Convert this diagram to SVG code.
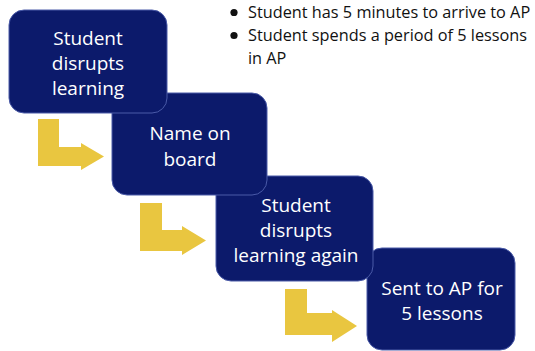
<svg xmlns="http://www.w3.org/2000/svg" width="535" height="351" viewBox="0 0 535 351">
<style>
.box{fill:#0c1a6b;stroke:#4a5aa8;stroke-width:1}
.bt{fill:#ffffff;font-family:"Open Sans","Liberation Sans",sans-serif;font-size:19px;text-anchor:middle}
.arr{fill:#e9c640}
.note{fill:#111111;font-family:"Open Sans","Liberation Sans",sans-serif;font-size:16.3px}
</style>
<rect width="535" height="351" fill="#ffffff"/>
<g id="connectors">
<polygon class="arr" points="38,119 59,119 59,147 81,147 81,143 104,156.5 81,170 81,166 38,166"/>
<polygon class="arr" points="140,203 162,203 162,230 182,230 182,226 206,240.5 182,255 182,251 140,251"/>
<polygon class="arr" points="285,289 307,289 307,313 332,313 332,310 357,326 332,342 332,335 285,335"/>
</g>
<g id="node4">
<rect class="box" x="367" y="248" width="148" height="102" rx="15"/>
<text class="bt" x="442" y="295">Sent to AP for</text>
<text class="bt" x="442" y="320">5 lessons</text>
</g>
<g id="node3">
<rect class="box" x="216" y="176" width="157" height="105" rx="15"/>
<text class="bt" x="296" y="212">Student</text>
<text class="bt" x="296" y="237">disrupts</text>
<text class="bt" x="296" y="262">learning again</text>
</g>
<g id="node2">
<rect class="box" x="112" y="93" width="155" height="102" rx="15"/>
<text class="bt" x="190" y="140">Name on</text>
<text class="bt" x="190" y="166">board</text>
</g>
<g id="node1">
<rect class="box" x="9" y="10" width="158" height="103" rx="15"/>
<text class="bt" x="88" y="45">Student</text>
<text class="bt" x="88" y="70">disrupts</text>
<text class="bt" x="88" y="95">learning</text>
</g>
<g id="notes">
<circle cx="234" cy="12.5" r="3.6" fill="#111111"/>
<circle cx="234" cy="35.5" r="3.6" fill="#111111"/>
<text class="note" x="248" y="18">Student has 5 minutes to arrive to AP</text>
<text class="note" x="248" y="41">Student spends a period of 5 lessons</text>
<text class="note" x="248" y="64">in AP</text>
</g>
</svg>
